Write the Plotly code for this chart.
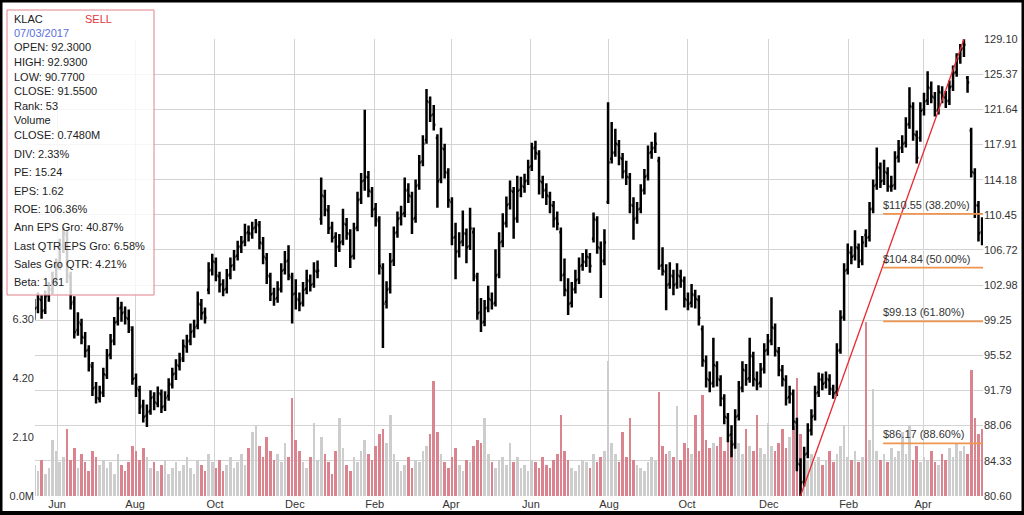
import pandas as pd
import plotly.graph_objects as go

# ---------------- data (one bar = 2 sessions) ----------------
dates = pd.bdate_range("2017-05-15", periods=262, freq="2B") + pd.Timedelta(hours=12)

opens = [
    100.0, 100.6, 101.4, 100.3, 101.9, 102.6, 103.6, 105.1, 107.2, 108.3,
    103.8, 101.2, 98.2, 98.8, 97.4, 96.1, 94.3, 92.1, 90.9, 91.6,
    93.4, 95.6, 97.1, 99.1, 100.6, 100.1, 99.4, 98.2, 93.1, 91.8,
    90.2, 89.1, 89.6, 91.1, 90.4, 91.4, 90.1, 91.2, 92.4, 93.6,
    94.4, 95.2, 96.4, 97.1, 98.1, 98.7, 100.9, 100.1, 102.5, 104.6,
    105.4, 103.9, 103.1, 102.6, 104.1, 105.1, 106.1, 107.1, 107.6, 108.6,
    108.4, 109.1, 109.3, 107.4, 105.8, 103.9, 102.1, 101.6, 102.6, 104.6,
    105.6, 103.8, 102.1, 101.4, 101.1, 102.6, 103.4, 103.1, 104.4, 110.0,
    112.4, 110.9, 109.1, 108.1, 107.1, 107.6, 109.4, 108.4, 106.1, 109.1,
    112.1, 114.1, 114.4, 112.9, 111.1, 109.8, 104.8, 101.2, 102.6, 105.6,
    108.6, 110.1, 110.6, 113.1, 112.4, 110.1, 113.6, 116.1, 118.4, 122.4,
    121.1, 118.6, 114.2, 117.4, 114.9, 111.8, 108.1, 106.6, 107.6, 108.4,
    107.1, 108.6, 103.8, 100.1, 99.1, 100.6, 101.4, 101.1, 104.1, 107.6,
    109.6, 111.6, 112.9, 110.1, 113.1, 113.4, 114.1, 115.6, 117.6, 116.9,
    113.9, 113.1, 112.4, 111.4, 110.1, 108.6, 104.1, 102.4, 101.1, 102.6,
    103.6, 105.1, 105.4, 105.9, 107.9, 109.9, 106.9, 105.6, 111.8, 116.4,
    117.1, 117.9, 116.4, 115.1, 114.4, 111.4, 110.1, 111.1, 113.1, 114.6,
    117.1, 117.6, 116.2, 105.1, 104.4, 103.1, 103.9, 103.1, 103.9, 103.4,
    101.4, 101.1, 101.9, 101.4, 98.3, 94.9, 92.9, 92.6, 94.4, 92.9,
    90.9, 88.9, 87.1, 86.1, 89.1, 92.1, 93.9, 93.1, 95.4, 92.9,
    92.6, 94.1, 96.1, 97.1, 98.4, 95.9, 93.9, 92.9, 91.1, 91.4,
    88.4, 83.9, 82.1, 85.1, 87.6, 89.1, 91.6, 92.9, 92.6, 92.9,
    91.9, 91.6, 96.1, 99.6, 104.6, 106.4, 106.1, 106.9, 105.6, 108.3,
    108.1, 111.1, 113.6, 115.4, 114.1, 114.9, 113.4, 113.6, 116.6, 117.6,
    118.1, 120.1, 121.9, 118.9, 118.6, 121.6, 122.6, 123.9, 122.9, 121.6,
    123.4, 122.9, 122.6, 124.1, 125.6, 127.1, 128.1, 125.0, 119.4, 114.9,
    111.4, 108.6,
]
highs = [
    101.5, 102.2, 101.9, 102.4, 103.3, 104.4, 105.8, 107.9, 109.1, 108.8,
    104.4, 101.8, 100.1, 99.4, 98.0, 96.6, 94.8, 92.7, 92.3, 94.2,
    96.2, 97.8, 99.6, 101.7, 101.2, 100.7, 100.4, 98.6, 93.6, 92.3,
    90.8, 90.3, 91.8, 91.6, 92.2, 91.9, 91.7, 93.1, 94.2, 95.1,
    95.8, 97.2, 97.7, 98.9, 99.3, 102.3, 101.5, 100.6, 105.4, 106.3,
    105.9, 104.4, 103.6, 104.7, 105.9, 106.7, 107.7, 108.2, 109.5, 109.3,
    109.7, 110.0, 109.8, 108.1, 106.4, 104.3, 102.7, 103.4, 105.3, 106.6,
    107.2, 104.3, 103.6, 102.2, 103.3, 104.6, 104.1, 105.4, 105.6, 114.4,
    113.1, 111.5, 109.7, 108.6, 108.4, 111.1, 110.1, 108.9, 109.6, 112.9,
    114.9, 121.6, 115.1, 113.4, 111.7, 110.3, 105.3, 103.4, 106.4, 109.2,
    110.8, 111.4, 114.4, 113.8, 112.9, 114.2, 116.8, 118.9, 123.8, 123.0,
    122.1, 119.0, 119.7, 118.0, 115.4, 112.3, 109.6, 108.6, 110.9, 109.0,
    111.2, 109.1, 104.3, 101.6, 101.4, 102.9, 102.2, 106.8, 108.6, 110.6,
    112.4, 114.1, 113.4, 114.6, 114.5, 114.8, 116.3, 118.1, 118.3, 117.3,
    114.6, 113.8, 112.9, 111.9, 110.8, 109.1, 105.8, 103.7, 103.3, 104.6,
    105.9, 106.4, 106.8, 106.4, 110.7, 110.3, 107.6, 108.9, 122.4, 120.3,
    119.6, 118.4, 117.0, 116.2, 114.9, 112.3, 111.8, 113.7, 115.3, 117.8,
    118.2, 119.2, 116.6, 107.0, 105.2, 105.4, 104.6, 105.3, 104.6, 103.9,
    102.2, 103.1, 102.5, 101.9, 98.7, 95.5, 93.8, 97.4, 94.9, 93.4,
    91.4, 89.4, 88.1, 89.8, 92.8, 94.9, 94.6, 97.4, 95.9, 93.8,
    94.7, 96.8, 97.8, 101.7, 98.9, 96.4, 94.5, 93.4, 92.3, 91.9,
    88.9, 84.6, 85.8, 88.3, 89.8, 92.3, 93.7, 93.6, 93.8, 93.5,
    92.4, 96.8, 100.3, 105.3, 107.4, 107.1, 108.8, 107.4, 108.2, 108.9,
    111.8, 114.2, 117.6, 116.0, 116.3, 115.5, 114.6, 117.2, 118.4, 118.9,
    120.8, 124.0, 122.4, 119.4, 122.4, 123.4, 125.7, 124.6, 123.5, 124.2,
    124.1, 123.6, 124.7, 126.3, 127.6, 128.6, 129.1, 125.2, 119.7, 115.4,
    111.9, 110.2,
]
lows = [
    99.3, 100.0, 99.4, 99.9, 101.2, 102.0, 103.1, 104.6, 106.4, 103.2,
    100.4, 97.3, 97.6, 96.7, 95.3, 93.8, 91.2, 90.4, 90.5, 91.1,
    93.0, 95.1, 96.6, 98.7, 99.1, 98.8, 97.9, 92.4, 91.1, 89.3,
    88.4, 87.9, 89.2, 89.7, 90.0, 89.4, 89.6, 90.7, 92.0, 92.9,
    93.9, 94.8, 95.8, 96.6, 97.4, 98.3, 99.3, 98.9, 102.0, 104.0,
    103.4, 102.2, 101.8, 102.1, 103.6, 104.5, 105.6, 106.4, 107.1, 107.6,
    107.9, 108.5, 106.8, 105.2, 103.1, 101.3, 100.8, 101.1, 102.2, 104.1,
    103.5, 98.9, 100.4, 100.2, 100.7, 102.0, 102.3, 102.7, 103.7, 109.4,
    110.3, 108.4, 107.5, 104.9, 106.5, 107.2, 107.8, 104.8, 105.7, 108.7,
    111.6, 113.0, 112.3, 110.2, 109.2, 104.1, 96.3, 100.5, 102.1, 105.0,
    108.0, 109.3, 110.2, 111.7, 108.4, 109.6, 113.1, 115.6, 118.0, 120.3,
    119.4, 111.2, 113.8, 114.3, 111.2, 107.2, 103.6, 105.9, 107.1, 105.3,
    106.7, 103.4, 99.3, 98.0, 98.6, 100.1, 100.4, 100.7, 103.7, 107.0,
    109.1, 111.0, 107.9, 109.6, 112.3, 112.8, 113.6, 115.1, 116.3, 112.6,
    112.2, 111.5, 110.6, 109.1, 108.8, 103.4, 101.8, 99.8, 100.6, 102.1,
    103.1, 104.5, 104.9, 104.3, 107.5, 106.3, 101.6, 105.1, 111.6, 115.9,
    116.6, 115.7, 114.3, 113.6, 110.6, 107.8, 109.5, 110.6, 112.6, 114.1,
    116.4, 117.0, 104.6, 104.0, 100.3, 102.6, 101.9, 102.6, 102.7, 100.6,
    100.3, 100.6, 100.5, 98.7, 94.3, 92.1, 91.6, 92.1, 92.2, 90.1,
    88.2, 86.3, 84.7, 85.6, 88.6, 91.6, 92.3, 92.6, 92.2, 91.8,
    92.1, 93.6, 95.5, 96.6, 95.4, 93.3, 92.2, 90.2, 90.4, 87.6,
    83.2, 80.6, 81.6, 84.6, 87.0, 88.6, 91.1, 91.8, 92.0, 91.3,
    90.9, 91.2, 95.7, 99.2, 104.1, 105.2, 105.6, 104.8, 105.1, 107.0,
    107.6, 110.6, 113.1, 113.3, 113.6, 112.9, 112.9, 113.1, 116.0, 117.0,
    117.6, 119.6, 118.3, 115.9, 118.2, 121.0, 122.1, 122.3, 120.9, 121.1,
    122.3, 121.8, 122.1, 123.6, 125.1, 126.5, 127.2, 123.4, 114.4, 110.1,
    107.6, 107.2,
]
closes = [
    100.5, 101.5, 100.2, 101.8, 102.5, 103.5, 105.0, 107.0, 108.5, 104.0,
    101.0, 98.0, 99.0, 97.5, 96.0, 94.5, 92.0, 91.0, 91.5, 93.5,
    95.5, 97.0, 99.0, 100.5, 100.0, 99.5, 98.5, 93.0, 92.0, 90.0,
    89.0, 89.5, 91.0, 90.5, 91.5, 90.0, 91.0, 92.5, 93.5, 94.5,
    95.0, 96.5, 97.0, 98.0, 98.5, 101.0, 100.0, 99.5, 104.5, 105.5,
    104.0, 103.0, 102.5, 104.0, 105.0, 106.0, 107.0, 107.5, 108.5, 108.5,
    109.0, 109.5, 107.5, 106.0, 104.0, 102.0, 101.5, 102.5, 104.5, 105.5,
    104.0, 102.0, 101.5, 101.0, 102.5, 103.5, 103.0, 104.5, 104.5, 112.5,
    111.0, 109.0, 108.0, 107.0, 107.5, 109.5, 108.5, 106.0, 109.0, 112.0,
    114.0, 114.5, 113.0, 111.0, 110.0, 105.0, 101.0, 102.5, 105.5, 108.5,
    110.0, 110.5, 113.0, 112.5, 110.0, 113.5, 116.0, 118.0, 122.5, 121.0,
    120.0, 114.0, 117.5, 115.0, 112.0, 108.0, 106.5, 107.5, 108.5, 107.0,
    109.0, 104.0, 100.0, 99.0, 100.5, 101.5, 101.0, 104.0, 107.5, 109.5,
    111.5, 113.0, 110.0, 113.0, 113.5, 114.0, 115.5, 117.5, 117.0, 114.0,
    113.0, 112.5, 111.5, 110.0, 109.5, 104.0, 102.5, 101.0, 102.5, 103.5,
    105.0, 105.5, 106.0, 105.0, 110.0, 107.0, 105.5, 107.5, 116.0, 117.0,
    118.0, 116.5, 115.0, 114.5, 111.5, 110.0, 111.0, 113.0, 114.5, 117.0,
    117.5, 118.0, 105.0, 104.5, 103.0, 104.0, 103.0, 104.0, 103.5, 101.5,
    101.0, 102.0, 101.5, 99.5, 95.0, 93.0, 92.5, 94.5, 93.0, 91.0,
    89.0, 87.0, 86.0, 89.0, 92.0, 94.0, 93.0, 95.5, 93.0, 92.5,
    94.0, 96.0, 97.0, 98.5, 96.0, 94.0, 93.0, 91.0, 91.5, 88.5,
    84.0, 82.0, 85.0, 87.5, 89.0, 91.5, 93.0, 92.5, 93.0, 92.0,
    91.5, 96.0, 99.5, 104.5, 106.5, 106.0, 107.0, 105.5, 107.5, 108.0,
    111.0, 113.5, 115.5, 114.0, 115.0, 113.5, 113.5, 116.5, 117.5, 118.0,
    120.0, 122.0, 119.0, 116.5, 121.5, 122.5, 124.0, 123.0, 121.5, 123.5,
    123.0, 122.5, 124.0, 125.5, 127.0, 128.0, 128.5, 124.5, 115.0, 111.5,
    108.5, 108.5,
]
volumes = [  # millions
    1.1, 0.9, 1.3, 0.8, 1.0, 2.0, 1.6, 1.2, 1.4, 2.4,
    1.3, 1.7, 1.0, 1.5, 1.2, 0.9, 1.6, 1.4, 1.1, 1.3,
    1.0, 1.2, 0.8, 1.5, 1.1, 0.9, 1.2, 1.8, 1.6, 1.3,
    1.7, 1.4, 1.0, 1.2, 0.9, 1.1, 1.3, 0.8, 1.0, 1.2,
    0.9, 1.1, 1.4, 1.0, 0.8, 1.3, 1.1, 0.9, 1.5, 1.2,
    1.0, 1.3, 0.9, 1.1, 1.4, 1.0, 1.2, 1.5, 1.1, 1.7,
    2.3, 2.5, 1.8, 1.4, 2.1, 1.6, 1.3, 1.5, 1.2, 1.9,
    1.4, 3.5, 2.0, 1.6, 1.2, 1.0, 1.4, 2.6, 1.3, 2.1,
    1.5, 1.2, 0.8, 1.6, 2.8, 1.7, 1.1, 0.9, 1.4, 1.2,
    1.6, 2.0, 1.5, 1.3, 1.8, 2.2, 2.4, 1.9, 2.9, 1.5,
    1.2, 0.9, 1.1, 1.4, 1.0, 1.3, 1.2, 1.6, 1.8, 2.2,
    4.1, 2.3, 1.5, 1.2, 1.0, 1.4, 1.7, 1.1, 0.9, 1.3,
    1.2, 1.8, 2.0, 1.9, 2.8, 1.5, 1.2, 1.0, 1.3, 1.4,
    1.1, 1.9, 1.2, 1.4, 1.0, 1.1, 0.9, 1.3, 1.2, 1.0,
    1.4, 1.1, 1.0, 1.3, 1.5, 2.9, 1.6, 1.3, 1.0, 0.9,
    1.1, 1.3, 1.2, 1.0, 1.5, 1.2, 1.4, 1.6, 4.8, 1.9,
    1.5, 1.2, 2.3, 1.4, 2.8, 1.3, 1.1, 1.0, 0.9, 1.2,
    1.4, 1.3, 3.7, 1.8, 1.5, 1.6, 1.4, 3.2, 1.3, 1.9,
    1.7, 1.5, 2.9, 1.6, 3.6, 2.0, 1.7, 1.9, 1.8, 2.1,
    1.6, 2.2, 2.0, 1.7, 1.9, 1.5, 2.4, 1.8, 1.6, 2.9,
    1.7, 1.5, 2.6, 1.8, 1.6, 1.9, 2.4, 1.7, 2.1, 2.5,
    4.2, 2.2, 1.6, 1.3, 1.5, 1.2, 1.4, 1.1, 1.3, 1.6,
    1.2, 1.5, 1.8, 2.5, 1.4, 1.3, 1.6, 1.2, 1.4, 6.2,
    2.0, 3.8, 1.6, 1.3, 1.5, 1.2, 1.7, 1.4, 1.6, 2.3,
    1.5, 2.5, 1.3, 1.8, 1.2, 1.4, 1.3, 1.6, 1.2, 1.1,
    1.5, 1.3, 1.7, 1.4, 1.9, 1.6, 1.8, 1.5, 4.5, 2.8,
    2.2, 2.4,
]

price_ticks = [80.60, 84.33, 88.06, 91.79, 95.52, 99.25, 102.98, 106.72,
               110.45, 114.18, 117.91, 121.64, 125.37, 129.10]
vol_ticks = [0, 2.1, 4.2, 6.3]
vol_tick_text = ["0.0M", "2.10", "4.20", "6.30"]

fib_levels = [110.55, 104.84, 99.13, 86.17]
fib_pcts = ["38.20%", "50.00%", "61.80%", "88.60%"]
fib_start = "2019-02-28"

info_title = "KLAC"
info_signal = "SELL"
info_date = "07/03/2017"
info_lines = ["OPEN: 92.3000", "HIGH: 92.9300", "LOW: 90.7700", "CLOSE: 91.5500",
              "Rank: 53", "Volume", "CLOSE: 0.7480M", "DIV: 2.33%", "PE: 15.24",
              "EPS: 1.62", "ROE: 106.36%", "Ann EPS Gro: 40.87%",
              "Last QTR EPS Gro: 6.58%", "Sales Gro QTR: 4.21%", "Beta: 1.61"]

# ---------------- layout geometry ----------------
W, H = 1024, 515
ML, MR, MT, MB = 35, 41, 39, 19
PW, PH = W - ML - MR, H - MT - MB
X_RANGE = ["2017-05-15 21:00", "2019-05-16 00:00"]


def px(x):
    return (x - ML) / PW


def py(y):
    return (H - MB - y) / PH


FONT = "Liberation Sans, Arial, Helvetica, sans-serif"
RED_VOL = "#d9848f"
GRAY_VOL = "#cdcdcd"

vol_colors = [RED_VOL if c < o else GRAY_VOL for o, c in zip(opens, closes)]

fig = go.Figure()

fig.add_trace(go.Bar(
    x=dates, y=volumes, marker=dict(color=vol_colors, line=dict(width=0)),
    width=1.45 * 86400000, yaxis="y", hoverinfo="skip",
))

fig.add_trace(go.Ohlc(
    x=dates, open=opens, high=highs, low=lows, close=closes,
    increasing=dict(line=dict(color="black", width=2.5)),
    decreasing=dict(line=dict(color="black", width=2.5)),
    tickwidth=0.45, yaxis="y2", hoverinfo="skip",
))

# trend line from the lowest low to the highest high
i_lo = min(range(len(lows)), key=lambda i: lows[i])
i_hi = max(range(len(highs)), key=lambda i: highs[i])
fig.add_trace(go.Scatter(
    x=[dates[i_lo], dates[i_hi]], y=[lows[i_lo], highs[i_hi]],
    mode="lines", line=dict(color="#e8292f", width=1.3), yaxis="y2", hoverinfo="skip",
))

annotations = []
for lvl, pct in zip(fib_levels, fib_pcts):
    fig.add_trace(go.Scatter(
        x=[fib_start, X_RANGE[1]], y=[lvl, lvl], mode="lines",
        line=dict(color="#f0954f", width=1.6), yaxis="y2", hoverinfo="skip",
    ))
    annotations.append(dict(
        x=fib_start, y=lvl, xref="x", yref="y2", text=f"${lvl:.2f} ({pct})",
        showarrow=False, xanchor="left", yanchor="bottom", yshift=1, xshift=-2,
        font=dict(family=FONT, size=11, color="#333333"),
    ))

# info box text
annotations.append(dict(x=px(12), y=py(19), xref="paper", yref="paper", text=info_title,
                        showarrow=False, xanchor="left", yanchor="middle",
                        font=dict(family=FONT, size=11, color="#222222")))
annotations.append(dict(x=px(83), y=py(19), xref="paper", yref="paper", text=info_signal,
                        showarrow=False, xanchor="left", yanchor="middle",
                        font=dict(family=FONT, size=11, color="#e2373d")))
annotations.append(dict(x=px(12), y=py(33), xref="paper", yref="paper", text=info_date,
                        showarrow=False, xanchor="left", yanchor="middle",
                        font=dict(family=FONT, size=11, color="#5a6fdc")))
line_y = [47, 62, 77, 91, 106, 120, 135, 154, 172, 191, 209, 227, 246, 264, 282]
for txt, yy in zip(info_lines, line_y):
    annotations.append(dict(x=px(12), y=py(yy), xref="paper", yref="paper", text=txt,
                            showarrow=False, xanchor="left", yanchor="middle",
                            font=dict(family=FONT, size=11, color="#222222")))

shapes = [
    dict(type="rect", xref="paper", yref="paper", x0=px(7), x1=px(154), y0=py(295), y1=py(10),
         line=dict(color="#e0808a", width=1), fillcolor="rgba(255,255,255,0.8)", layer="above"),
    # black frame around the picture
    dict(type="rect", xref="paper", yref="paper", x0=px(0), x1=px(W), y0=py(2.5), y1=py(0),
         line=dict(width=0), fillcolor="black", layer="above"),
    dict(type="rect", xref="paper", yref="paper", x0=px(0), x1=px(W), y0=py(H), y1=py(H - 4),
         line=dict(width=0), fillcolor="black", layer="above"),
    dict(type="rect", xref="paper", yref="paper", x0=px(0), x1=px(2.5), y0=py(H), y1=py(0),
         line=dict(width=0), fillcolor="black", layer="above"),
    dict(type="rect", xref="paper", yref="paper", x0=px(W - 2.5), x1=px(W), y0=py(H), y1=py(0),
         line=dict(width=0), fillcolor="black", layer="above"),
]

# first trading day of every second month
month_ticks = [pd.offsets.BDay().rollforward(d)
               for d in pd.date_range("2017-06-01", "2019-04-01", freq="MS")[::2]]

fig.update_layout(
    width=W, height=H,
    margin=dict(l=ML, r=MR, t=MT, b=MB, pad=0, autoexpand=False),
    paper_bgcolor="white", plot_bgcolor="white",
    showlegend=False, bargap=0,
    font=dict(family=FONT, size=11, color="#333333"),
    xaxis=dict(
        type="date", range=X_RANGE, automargin=False,
        rangebreaks=[dict(bounds=["sat", "mon"])],
        rangeslider=dict(visible=False),
        tickvals=month_ticks, ticktext=[d.strftime("%b") for d in month_ticks],
        showgrid=True, gridcolor="#d3d3d3", gridwidth=1,
        ticks="", showline=False, zeroline=False,
        tickfont=dict(family=FONT, size=11, color="#333333"),
    ),
    yaxis=dict(
        side="left", range=[0, 16.3], tickvals=vol_ticks, ticktext=vol_tick_text,
        automargin=False,
        showgrid=False, zeroline=False, ticks="", showline=False,
        tickfont=dict(family=FONT, size=11, color="#333333"),
    ),
    yaxis2=dict(
        overlaying="y", side="right", range=[80.58, 129.12],
        tickvals=price_ticks, ticktext=[f"{v:.2f}" for v in price_ticks],
        automargin=False,
        showgrid=True, gridcolor="#d3d3d3", gridwidth=1,
        zeroline=False, ticks="", showline=False,
        tickfont=dict(family=FONT, size=11, color="#333333"),
    ),
    annotations=annotations,
    shapes=shapes,
)

fig.write_html(
    "out.html",
    config={"displayModeBar": False},
    post_script="document.body.style.margin='0';document.body.style.overflow='hidden';",
)
